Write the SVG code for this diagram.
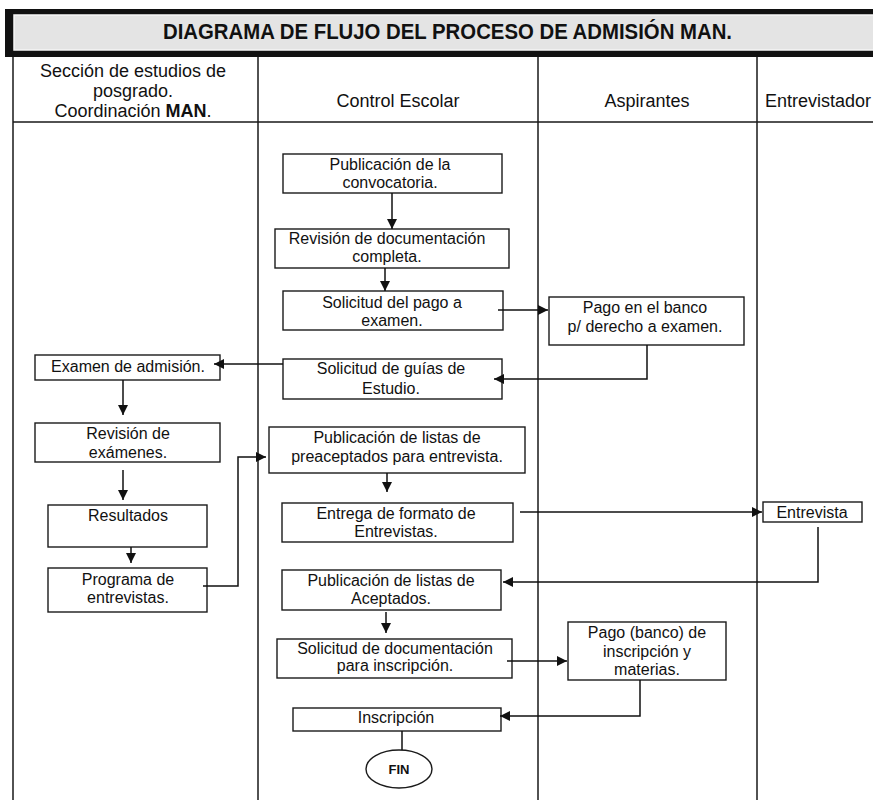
<svg xmlns="http://www.w3.org/2000/svg" width="873" height="803" viewBox="0 0 873 803">
  <style>
    .box { fill: #fff; stroke: #1a1a1a; stroke-width: 1.4; }
    .lane { stroke: #1a1a1a; stroke-width: 1.5; fill: none; }
    .t { font-family: "Liberation Sans", Arial, sans-serif; font-size: 16px; fill: #111; text-anchor: middle; }
    .h { font-family: "Liberation Sans", Arial, sans-serif; font-size: 18px; fill: #111; text-anchor: middle; }
    .c { stroke: #111; stroke-width: 1.5; fill: none; }
  </style>
  <defs>
    <marker id="arr" markerUnits="userSpaceOnUse" markerWidth="11" markerHeight="10" refX="10" refY="5" orient="auto">
      <path d="M0,0 L10,5 L0,10 z" fill="#111"/>
    </marker>
  </defs>

  <rect width="873" height="803" fill="#fff"/>

  <!-- title bar -->
  <g id="title">
    <rect x="5" y="9" width="880" height="48" fill="#111"/>
    <rect x="14" y="15" width="870" height="35" fill="#e4e4e4" stroke="#f6f6f6" stroke-width="1.5"/>
    <text x="163" y="39" textLength="569" lengthAdjust="spacingAndGlyphs" font-family="'Liberation Sans', Arial, sans-serif" font-size="22" font-weight="bold" fill="#111">DIAGRAMA DE FLUJO DEL PROCESO DE ADMISIÓN MAN.</text>
  </g>

  <!-- swimlanes -->
  <g id="lanes">
    <path class="lane" d="M13,57 V800 M258,57 V800 M538,57 V800 M757,57 V800 M13,122 H873"/>
    <text class="h" x="133" y="77">Sección de estudios de</text>
    <text class="h" x="133" y="97">posgrado.</text>
    <text class="h" x="133" y="117">Coordinación <tspan font-weight="bold">MAN</tspan>.</text>
    <text class="h" x="398" y="107">Control Escolar</text>
    <text class="h" x="647" y="107">Aspirantes</text>
    <text class="h" x="765" y="107" style="text-anchor:start">Entrevistador</text>
  </g>

  <!-- Control Escolar -->
  <g id="publicacion-convocatoria">
    <rect class="box" x="283" y="154" width="219" height="39"/>
    <text class="t" x="390" y="170">Publicación de la</text>
    <text class="t" x="390" y="188">convocatoria.</text>
  </g>
  <g id="revision-documentacion">
    <rect class="box" x="275" y="229" width="234" height="39"/>
    <text class="t" x="387" y="244">Revisión de documentación</text>
    <text class="t" x="387" y="262">completa.</text>
  </g>
  <g id="solicitud-pago">
    <rect class="box" x="283" y="291" width="220" height="39"/>
    <text class="t" x="392" y="308">Solicitud del pago a</text>
    <text class="t" x="392" y="326">examen.</text>
  </g>
  <g id="solicitud-guias">
    <rect class="box" x="283" y="359" width="219" height="40"/>
    <text class="t" x="391" y="374">Solicitud de guías de</text>
    <text class="t" x="391" y="394">Estudio.</text>
  </g>
  <g id="publicacion-preaceptados">
    <rect class="box" x="269" y="427" width="256" height="46"/>
    <text class="t" x="397" y="443">Publicación de listas de</text>
    <text class="t" x="397" y="462">preaceptados para entrevista.</text>
  </g>
  <g id="entrega-formato">
    <rect class="box" x="282" y="503" width="231" height="39"/>
    <text class="t" x="396" y="519">Entrega de formato de</text>
    <text class="t" x="396" y="537">Entrevistas.</text>
  </g>
  <g id="publicacion-aceptados">
    <rect class="box" x="282" y="570" width="219" height="40"/>
    <text class="t" x="391" y="586">Publicación de listas de</text>
    <text class="t" x="391" y="604">Aceptados.</text>
  </g>
  <g id="solicitud-documentacion">
    <rect class="box" x="277" y="639" width="235" height="39"/>
    <text class="t" x="395" y="654">Solicitud de documentación</text>
    <text class="t" x="395" y="671">para inscripción.</text>
  </g>
  <g id="inscripcion">
    <rect class="box" x="293" y="708" width="208" height="23"/>
    <text class="t" x="396" y="723">Inscripción</text>
  </g>
  <g id="fin">
    <ellipse class="box" cx="399" cy="769" rx="33" ry="19"/>
    <text x="399" y="774" text-anchor="middle" font-family="'Liberation Sans', Arial, sans-serif" font-size="13" font-weight="bold" fill="#111">FIN</text>
  </g>

  <!-- Aspirantes -->
  <g id="pago-examen">
    <rect class="box" x="549" y="297" width="195" height="48"/>
    <text class="t" x="645" y="313">Pago en el banco</text>
    <text class="t" x="645" y="332">p/ derecho a examen.</text>
  </g>
  <g id="pago-inscripcion">
    <rect class="box" x="568" y="622" width="158" height="58"/>
    <text class="t" x="647" y="638">Pago (banco) de</text>
    <text class="t" x="647" y="657">inscripción y</text>
    <text class="t" x="647" y="675">materias.</text>
  </g>

  <!-- Sección de estudios de posgrado -->
  <g id="examen-admision">
    <rect class="box" x="35" y="355" width="185" height="25"/>
    <text class="t" x="128" y="372">Examen de admisión.</text>
  </g>
  <g id="revision-examenes">
    <rect class="box" x="35" y="423" width="185" height="39"/>
    <text class="t" x="128" y="439">Revisión de</text>
    <text class="t" x="128" y="458">exámenes.</text>
  </g>
  <g id="resultados">
    <rect class="box" x="48" y="505" width="159" height="42"/>
    <text class="t" x="128" y="521">Resultados</text>
  </g>
  <g id="programa-entrevistas">
    <rect class="box" x="48" y="568" width="159" height="44"/>
    <text class="t" x="128" y="585">Programa de</text>
    <text class="t" x="128" y="603">entrevistas.</text>
  </g>

  <!-- Entrevistador -->
  <g id="entrevista">
    <rect class="box" x="763" y="502" width="99" height="20"/>
    <text class="t" x="812" y="518">Entrevista</text>
  </g>

  <!-- connectors, drawn over the boxes so heads that reach inside stay visible -->
  <g id="connectors">
    <path class="c" marker-end="url(#arr)" d="M392,193 V229"/>
    <path class="c" marker-end="url(#arr)" d="M385,268 V291"/>
    <path class="c" marker-end="url(#arr)" d="M498,310 H548"/>
    <path class="c" marker-end="url(#arr)" d="M647,345 V379 H494"/>
    <path class="c" marker-end="url(#arr)" d="M283,364 H214"/>
    <path class="c" marker-end="url(#arr)" d="M123,380 V415"/>
    <path class="c" marker-end="url(#arr)" d="M123,470 V500"/>
    <path class="c" marker-end="url(#arr)" d="M131,547 V563"/>
    <path class="c" marker-end="url(#arr)" d="M203,586 H238 V457 H266"/>
    <path class="c" marker-end="url(#arr)" d="M387,473 V492"/>
    <path class="c" marker-end="url(#arr)" d="M520,512 H762"/>
    <path class="c" marker-end="url(#arr)" d="M818,527 V582 H503"/>
    <path class="c" marker-end="url(#arr)" d="M386,612 V633"/>
    <path class="c" marker-end="url(#arr)" d="M507,661 H567"/>
    <path class="c" marker-end="url(#arr)" d="M640,680 V716 H500"/>
    <path class="c" d="M402,731 V750"/>
  </g>
</svg>
